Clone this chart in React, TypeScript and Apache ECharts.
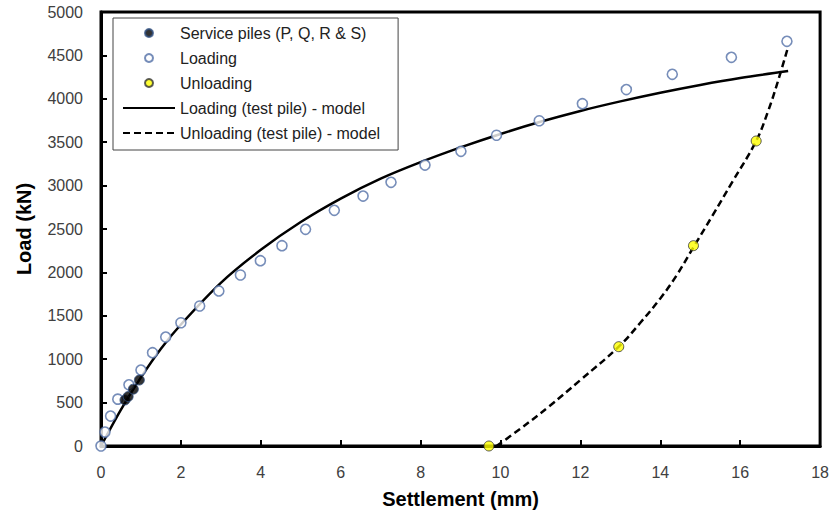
import React, { useEffect, useRef } from "react";
import * as echarts from "echarts";

const servicePiles: number[][] = [[0.6, 530], [0.68, 570], [0.81, 655], [0.96, 760]];
const loadingPoints: number[][] = [
  [0, 0], [0.1, 160], [0.24, 345], [0.42, 540], [0.7, 705], [1.0, 875], [1.29, 1075],
  [1.62, 1255], [2.0, 1420], [2.47, 1613], [2.95, 1786], [3.49, 1970], [3.99, 2135],
  [4.53, 2308], [5.12, 2496], [5.84, 2715], [6.56, 2880], [7.26, 3038], [8.11, 3237],
  [9.01, 3395], [9.9, 3580], [10.97, 3747], [12.05, 3944], [13.15, 4106], [14.3, 4282],
  [15.78, 4478], [17.17, 4662],
];
const unloadingPoints: number[][] = [[16.4, 3514], [14.83, 2308], [12.96, 1144], [9.71, 0]];
const loadingModel: number[][] = [
  [0, 0], [0.5, 420], [1, 790], [1.5, 1120], [2, 1400], [3, 1880], [4, 2260], [5, 2580],
  [6, 2850], [7, 3080], [8, 3270], [9, 3440], [10, 3595], [11, 3735], [12, 3860],
  [13, 3970], [14, 4070], [15, 4160], [16, 4240], [17.2, 4320],
];
const unloadingModel: number[][] = [
  [9.9, 0], [10.5, 200], [11.2, 450], [12, 760], [12.96, 1144], [13.5, 1420], [14, 1700],
  [14.4, 1960], [14.83, 2290], [15.3, 2650], [15.8, 3040], [16.4, 3514], [16.7, 3860],
  [16.95, 4210], [17.2, 4600],
];
const xTicks = { min: 0, max: 18, interval: 2 };
const yTicks = { min: 0, max: 5000, interval: 500 };

const legendNames = [
  "Service piles (P, Q, R & S)",
  "Loading",
  "Unloading",
  "Loading (test pile) - model",
  "Unloading (test pile) - model",
];

export default function App() {
  const ref = useRef<HTMLDivElement>(null);
  useEffect(() => {
    if (!ref.current) return;
    const chart = echarts.init(ref.current, undefined, { renderer: "svg" });
    const font = "'Liberation Sans', Arial, sans-serif";
    chart.setOption({
      animation: false,
      backgroundColor: "#fff",
      textStyle: { fontFamily: font },
      grid: {
        left: 101, right: 10, top: 12, bottom: 68,
        show: true, borderColor: "#000", borderWidth: 3, backgroundColor: "transparent",
      },
      legend: {
        orient: "vertical",
        left: 113,
        top: 18,
        padding: [7, 18, 9, 9],
        itemGap: 9,
        itemWidth: 52,
        itemHeight: 8,
        backgroundColor: "#fff",
        borderColor: "#444",
        borderWidth: 1,
        borderRadius: 0,
        textStyle: { fontSize: 16, color: "#222", fontFamily: font, lineHeight: 16 },
        data: legendNames.map((n, i) =>
          i >= 3 ? { name: n, itemStyle: { opacity: 0 } } : { name: n }
        ),
      },
      xAxis: {
        type: "value",
        ...xTicks,
        name: "Settlement (mm)",
        nameLocation: "middle",
        nameGap: 43,
        nameTextStyle: { fontSize: 20, fontWeight: "bold", color: "#000", fontFamily: font },
        axisLine: { lineStyle: { color: "#000", width: 3 } },
        axisTick: { inside: true, length: 6, lineStyle: { color: "#000", width: 2 } },
        axisLabel: { fontSize: 16, color: "#404040", margin: 18 },
        splitLine: { show: false },
      },
      yAxis: {
        type: "value",
        ...yTicks,
        name: "Load (kN)",
        nameLocation: "middle",
        nameGap: 67,
        nameTextStyle: { fontSize: 20, fontWeight: "bold", color: "#000", fontFamily: font },
        axisLine: { lineStyle: { color: "#000", width: 3 } },
        axisTick: { inside: true, length: 6, lineStyle: { color: "#000", width: 2 } },
        axisLabel: { fontSize: 16, color: "#404040", margin: 18, formatter: (v: number) => String(v) },
        splitLine: { show: false },
      },
      series: [
        {
          name: "Loading (test pile) - model",
          type: "line",
          data: loadingModel,
          smooth: 0.3,
          symbol: "none",
          lineStyle: { color: "#000", width: 2.5 },
          itemStyle: { color: "rgba(0,0,0,0)" },
          z: 2,
        },
        {
          name: "Unloading (test pile) - model",
          type: "line",
          data: unloadingModel,
          smooth: 0.4,
          symbol: "none",
          lineStyle: { color: "#000", width: 2.5, type: [7, 4] },
          itemStyle: { color: "rgba(0,0,0,0)" },
          z: 2,
        },
        {
          name: "Loading",
          type: "scatter",
          data: loadingPoints,
          symbol: "circle",
          symbolSize: 10,
          itemStyle: { color: "#fff", borderColor: "#5470a8", borderWidth: 1.6 },
          z: 3,
        },
        {
          name: "Unloading",
          type: "scatter",
          data: unloadingPoints,
          symbol: "circle",
          symbolSize: 10,
          itemStyle: { color: "#ffff00", borderColor: "#333", borderWidth: 1 },
          z: 4,
        },
        {
          name: "Service piles (P, Q, R & S)",
          type: "scatter",
          data: servicePiles,
          symbol: "circle",
          symbolSize: 10,
          itemStyle: { color: "#000", borderColor: "#2f4f80", borderWidth: 1 },
          z: 5,
        },
      ],
    });
    return () => chart.dispose();
  }, []);
  return (
    <div
      ref={ref}
      style={{ position: "absolute", left: 0, top: 0, width: 832, height: 514 }}
    />
  );
}
